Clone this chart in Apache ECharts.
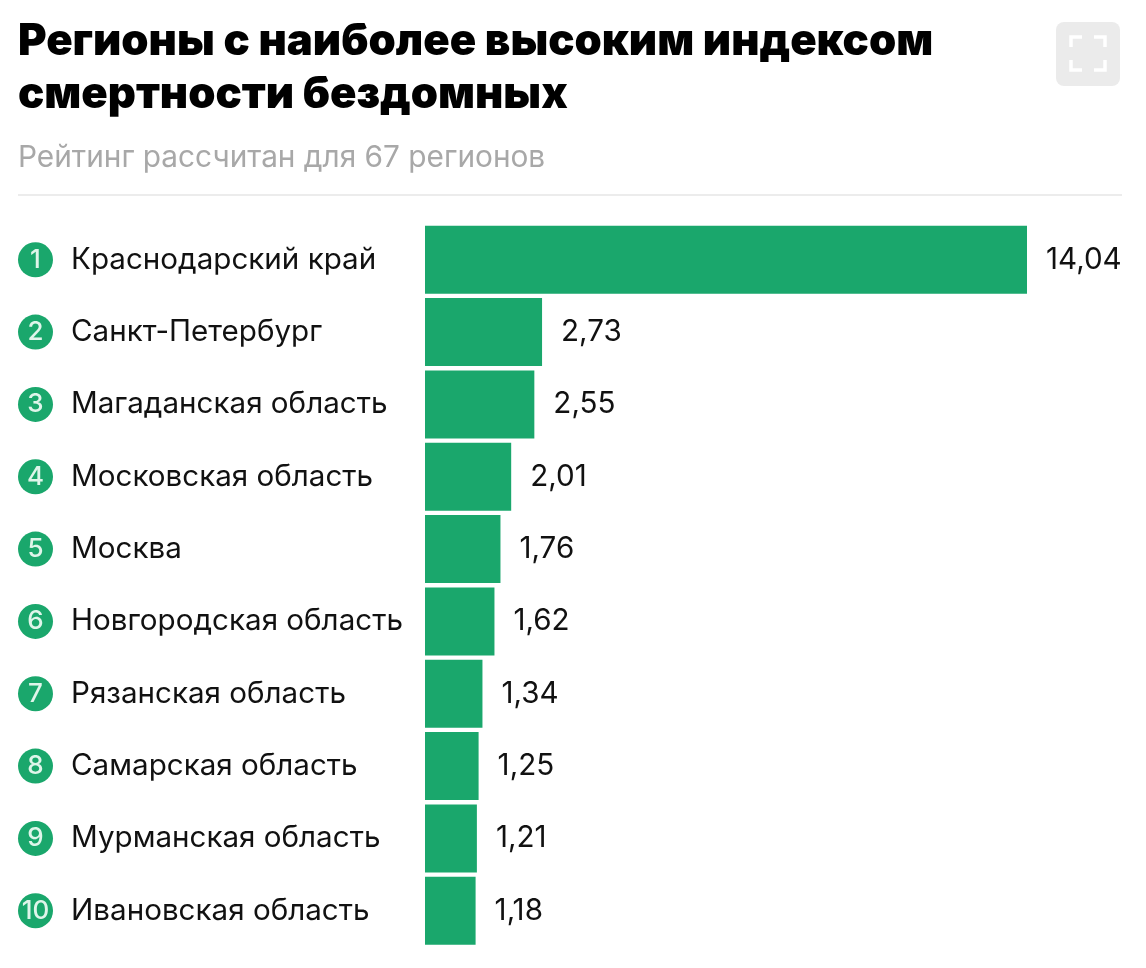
<!DOCTYPE html>
<html>
<head>
<meta charset="utf-8">
<style type="text/css">
html, body { margin: 0; padding: 0; background: #fff; }
#chart { width: 1146px; height: 968px; }
</style>
<script src="https://cdn.jsdelivr.net/npm/echarts@6/dist/echarts.min.js"></script>
</head>
<body>
<div id="chart"></div>
<script>
var regions = ['Краснодарский край', 'Санкт-Петербург', 'Магаданская область', 'Московская область', 'Москва',
    'Новгородская область', 'Рязанская область', 'Самарская область', 'Мурманская область', 'Ивановская область'];
var values = [14.04, 2.73, 2.55, 2.01, 1.76, 1.62, 1.34, 1.25, 1.21, 1.18];
var titleText = 'Регионы с наиболее высоким индексом\nсмертности бездомных';
var subtitleText = 'Рейтинг рассчитан для 67 регионов';

var green = '#1aa76c';
var font = 'Inter';
var chart = echarts.init(document.getElementById('chart'));

function bracket(points) {
    return {
        type: 'polyline',
        shape: { points: points },
        style: { stroke: '#fff', lineWidth: 3.5, fill: null }
    };
}

var option = {
    backgroundColor: '#fff',
    animation: false,
    title: [{
        text: titleText,
        left: 18,
        top: 15,
        padding: 0,
        textStyle: { fontFamily: font, fontSize: 43.65, fontWeight: 900, color: '#000', lineHeight: 53 }
    }, {
        text: subtitleText,
        left: 18,
        top: 143,
        padding: 0,
        textStyle: { fontFamily: font, fontSize: 29.8, fontWeight: 400, color: '#a8a8a8' }
    }],
    graphic: [
        { type: 'rect', shape: { x: 18, y: 194, width: 1104, height: 2 }, style: { fill: '#ececec' } },
        { type: 'rect', shape: { x: 1056, y: 22, width: 64, height: 64, r: 8 }, style: { fill: '#ebebeb' } },
        bracket([[1071, 47], [1071, 37], [1082, 37]]),
        bracket([[1094, 37], [1105, 37], [1105, 47]]),
        bracket([[1071, 60], [1071, 70], [1082, 70]]),
        bracket([[1094, 70], [1105, 70], [1105, 60]])
    ],
    grid: { left: 425, top: 223.6, width: 602, height: 723.3 },
    xAxis: { type: 'value', min: 0, max: 14.04, show: false },
    yAxis: {
        type: 'category',
        inverse: true,
        data: regions,
        axisLine: { show: false },
        axisTick: { show: false },
        axisLabel: {
            margin: 407,
            align: 'left',
            formatter: function(name, index) {
                return '{num|' + (index + 1) + '}{name|' + name + '}';
            },
            rich: {
                num: {
                    width: 35, height: 35, lineHeight: 35, borderRadius: 18,
                    backgroundColor: green, color: '#dff5ea', align: 'center',
                    fontFamily: font, fontSize: 26, fontWeight: 500
                },
                name: {
                    padding: [0, 0, 0, 18],
                    fontFamily: font, fontSize: 29.6, fontWeight: 400, color: '#111'
                }
            }
        }
    },
    series: [{
        type: 'bar',
        data: values,
        barWidth: 68,
        itemStyle: { color: green },
        label: {
            show: true,
            position: 'right',
            distance: 19,
            fontFamily: font,
            fontSize: 29.6,
            color: '#111',
            formatter: function(params) {
                return params.value.toFixed(2).replace('.', ',');
            }
        }
    }]
};
chart.setOption(option);
</script>
</body>
</html>
